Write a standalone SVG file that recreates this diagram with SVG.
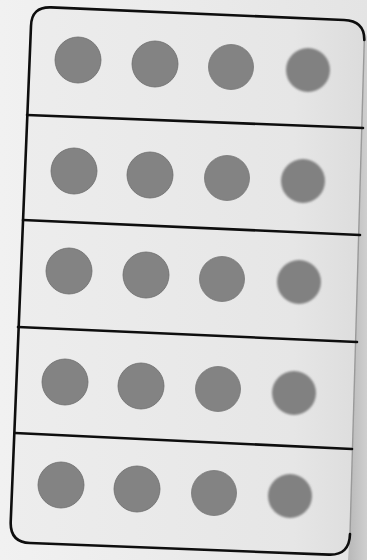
<svg xmlns="http://www.w3.org/2000/svg" width="367" height="560" viewBox="0 0 367 560">
  <defs>
    <linearGradient id="page" x1="0" y1="0" x2="1" y2="0">
      <stop offset="0" stop-color="#f1f1f1"/>
      <stop offset="1" stop-color="#e4e4e4"/>
    </linearGradient>
    <linearGradient id="cardfill" x1="0" y1="0" x2="1" y2="0">
      <stop offset="0" stop-color="#ededed"/>
      <stop offset="0.8" stop-color="#e6e6e6"/>
      <stop offset="1" stop-color="#dcdcdc"/>
    </linearGradient>
    <linearGradient id="shade" x1="0" y1="0" x2="1" y2="0">
      <stop offset="0" stop-color="#b8b8b8"/>
      <stop offset="1" stop-color="#cfcfcf"/>
    </linearGradient>
    <filter id="soft" x="-20%" y="-20%" width="140%" height="140%">
      <feGaussianBlur stdDeviation="0.9"/>
    </filter>
  </defs>
  <style>
    .dot { fill: #838383; stroke: #6c6c6c; stroke-width: 0.8; }
    .dot.c3 { stroke: #777777; }
    .dot.c4 { fill: #818181; stroke: none; filter: url(#soft); }
    .line { stroke: #0e0e0e; stroke-width: 2.6; fill: none; stroke-linecap: round; }
  </style>

  <rect x="0" y="0" width="367" height="560" fill="url(#page)"/>
  <!-- shadow right of the card -->
  <path d="M364,40 L350,530 L348,560 L367,560 L367,35 Z" fill="url(#shade)"/>

  <g id="card">
    <path d="M31,26 Q31.5,6.6 51,7.4 L344,20 Q364.6,20.8 364.3,40 L350,534 Q349.4,555.4 329,554.6 L30,543 Q10,542.2 10.7,522 Z" fill="url(#cardfill)" stroke="none"/>
    <path d="M364.3,40 L350,534" stroke="#9a9a9a" stroke-width="1.4" fill="none"/>
    <path class="line" d="M364.3,40 Q364.6,20.8 344,20 L51,7.4 Q31.5,6.6 31,26 L10.7,522 Q10,542.2 30,543 L329,554.6 Q349.4,555.4 350,534"/>
  </g>

  <g id="connectors">
    <line class="line" x1="27" y1="115" x2="363" y2="128"/>
    <line class="line" x1="23" y1="220" x2="360" y2="235"/>
    <line class="line" x1="18" y1="327" x2="357" y2="342"/>
    <line class="line" x1="15" y1="433" x2="352" y2="449"/>
  </g>

  <g id="row1">
    <circle class="dot" cx="78" cy="60" r="23"/>
    <circle class="dot" cx="155" cy="64" r="23"/>
    <circle class="dot c3" cx="231" cy="67" r="22.5"/>
    <circle class="dot c4" cx="308" cy="70" r="22"/>
  </g>
  <g id="row2">
    <circle class="dot" cx="74" cy="171" r="23"/>
    <circle class="dot" cx="150" cy="175" r="23"/>
    <circle class="dot c3" cx="227" cy="178" r="22.5"/>
    <circle class="dot c4" cx="303" cy="181" r="22"/>
  </g>
  <g id="row3">
    <circle class="dot" cx="69" cy="271" r="23"/>
    <circle class="dot" cx="146" cy="275" r="23"/>
    <circle class="dot c3" cx="222" cy="279" r="22.5"/>
    <circle class="dot c4" cx="299" cy="282" r="22"/>
  </g>
  <g id="row4">
    <circle class="dot" cx="65" cy="382" r="23"/>
    <circle class="dot" cx="141" cy="386" r="23"/>
    <circle class="dot c3" cx="218" cy="389" r="22.5"/>
    <circle class="dot c4" cx="294" cy="393" r="22"/>
  </g>
  <g id="row5">
    <circle class="dot" cx="61" cy="485" r="23"/>
    <circle class="dot" cx="137" cy="489" r="23"/>
    <circle class="dot c3" cx="214" cy="493" r="22.5"/>
    <circle class="dot c4" cx="290" cy="496" r="22"/>
  </g>
</svg>
